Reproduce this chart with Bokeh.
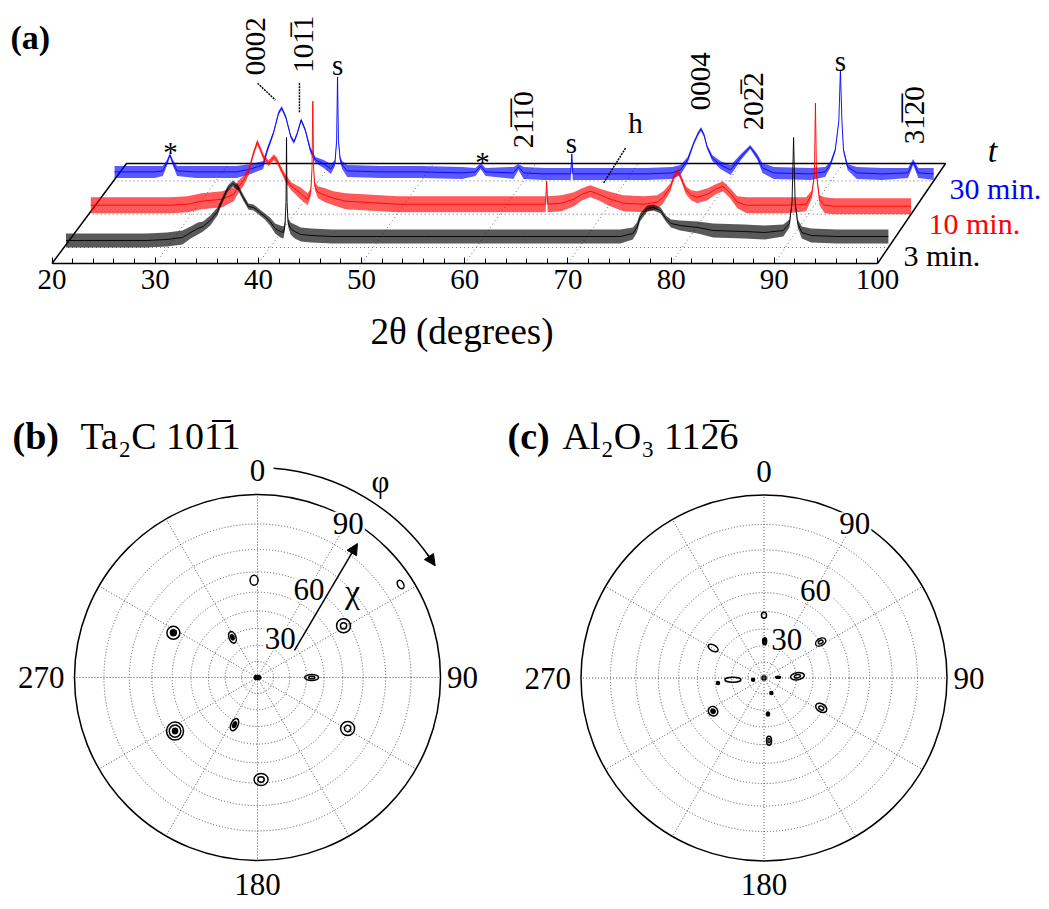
import math
import numpy as np
from bokeh.plotting import figure
from bokeh.layouts import column, row
from bokeh.models import Range1d, FixedTicker, Arrow, NormalHead, LinearAxis
from bokeh.core.properties import value
from bokeh.embed import file_html
from bokeh.resources import INLINE

FONT = "Liberation Serif"

# ---------------- panel (a): XRD scans (2theta in degrees, intensity in arb. units) ----------------
tth_3min = [20.2, 22.0, 24.0, 26.0, 28.0, 30.0, 31.5, 32.3, 33.0, 33.5, 34.2, 34.9, 35.4, 35.9, 36.4,
            36.9, 37.4, 37.9, 38.4, 38.9, 39.5, 40.0, 40.5, 41.0, 41.3, 41.45, 41.55, 41.6, 41.65, 41.75,
            42.0, 42.4, 43.0, 44.0, 46.0, 50.0, 55.0, 60.0, 65.0, 70.0, 74.0, 75.2, 75.6, 75.9, 76.6,
            77.2, 77.9, 78.4, 78.9, 79.8, 81.5, 83.0, 86.0, 88.0, 89.8, 90.4, 90.65, 90.8, 90.95, 91.2,
            91.6, 92.5, 95.0, 98.0, 100.0]
int_3min = [7, 7, 7, 7, 7, 8, 10, 15, 19, 21, 27, 36, 48, 59, 64,
            60, 50, 41, 40, 36, 31, 26, 19, 16, 15, 22, 45, 110, 45, 25,
            19, 16, 13, 12, 11, 11, 11, 11, 11, 11, 11, 14, 20, 30, 39,
            40, 37, 29, 24, 22, 20, 17, 16, 15, 17, 24, 45, 110, 45, 24,
            15, 12, 11, 11, 11]
noise_3min = [7, 7, 7, 7, 7, 7, 7, 6, 6, 5, 5, 4, 3, 3, 3,
              3, 3, 3, 3, 3, 3, 4, 5, 6, 6, 4, 2, 1, 2, 4,
              6, 7, 7, 7, 7, 7, 7, 7, 7, 7, 7, 6, 5, 4, 3,
              3, 3, 3, 4, 5, 6, 7, 7, 7, 6, 4, 2, 1, 2, 4,
              6, 7, 7, 7, 7]

tth_10min = [20.2, 22.0, 24.0, 26.0, 28.0, 29.6, 31.0, 33.0, 34.1, 34.6, 35.1, 35.6, 36.0, 36.4, 36.7,
             37.0, 37.5, 38.0, 38.3, 38.7, 39.2, 39.7, 40.2, 40.6, 41.3, 41.6, 41.72, 41.8, 41.88, 42.0,
             42.3, 43.0, 43.8, 45.0, 46.7, 50.0, 55.0, 60.0, 64.45, 64.55, 64.65, 66.0, 67.2, 68.0, 68.8,
             69.6, 70.5, 72.0, 74.0, 75.3, 75.9, 76.6, 76.9, 77.3, 77.6, 78.1, 78.6, 79.2, 80.2, 81.0,
             81.7, 82.4, 83.1, 84.0, 86.0, 88.0, 89.8, 90.35, 90.6, 90.7, 90.8, 91.1, 91.6, 92.5, 95.0,
             98.0, 100.0]
int_10min = [9, 9, 9, 9, 9, 10, 13, 15, 20, 28, 34, 44, 60, 72, 65,
             57, 51, 57, 54, 45, 35, 28, 24, 21, 15, 22, 45, 113, 45, 28,
             22, 19, 16, 13, 12, 10, 10, 10, 10, 33, 10, 11, 15, 20, 23,
             20, 16, 11, 10, 12, 17, 27, 37, 43, 37, 24, 19, 17, 20, 25,
             28, 21, 12, 9, 9, 9, 10, 20, 40, 111, 40, 14, 9, 8, 8,
             8, 8]
noise_10min = [8, 8, 8, 8, 8, 8, 8, 8, 7, 6, 5, 4, 3, 3, 3,
               3, 3, 3, 3, 3, 4, 4, 5, 6, 6, 4, 2, 1, 2, 4,
               6, 7, 7, 8, 8, 8, 8, 8, 8, 1, 8, 8, 7, 6, 6,
               6, 7, 8, 8, 7, 6, 4, 3, 3, 3, 4, 5, 6, 6, 5,
               5, 5, 6, 8, 8, 8, 7, 4, 2, 1, 2, 5, 8, 8, 8,
               8, 8]

tth_30min = [20.1, 22.0, 24.0, 24.8, 25.2, 25.5, 25.8, 26.2, 28.0, 30.0, 32.0, 33.4, 34.6, 35.0, 35.6,
             36.1, 36.4, 36.8, 37.3, 37.6, 37.9, 38.3, 38.7, 39.2, 39.7, 40.5, 41.2, 41.6, 41.76, 41.85,
             41.94, 42.1, 42.3, 42.8, 46.0, 50.0, 54.0, 55.3, 55.8, 56.3, 59.0, 59.5, 60.0, 62.0, 64.6,
             64.7, 64.8, 68.0, 72.0, 74.5, 75.3, 76.0, 76.6, 77.0, 77.3, 77.6, 77.9, 78.4, 79.2, 80.2,
             81.2, 82.1, 82.8, 83.3, 84.4, 88.0, 89.4, 89.9, 90.4, 90.75, 90.9, 91.05, 91.2, 91.6, 92.5,
             95.0, 97.5, 98.0, 98.5, 100.0]
int_30min = [9, 9, 9, 10, 18, 26, 18, 10, 9, 9, 9, 12, 16, 31, 48,
             68, 73, 64, 44, 39, 47, 61, 51, 31, 21, 17, 12, 18, 40, 104,
             40, 22, 16, 10, 9, 9, 8, 9, 15, 9, 8, 14, 8, 7, 7,
             27, 7, 7, 7, 8, 11, 21, 38, 47, 52, 46, 34, 23, 16, 11,
             24, 34, 24, 13, 8, 7, 9, 16, 31, 60, 111, 60, 31, 14, 8,
             7, 8, 19, 8, 7]
noise_30min = [6, 6, 6, 5, 3, 2, 3, 5, 6, 6, 6, 5, 4, 3, 2,
               2, 2, 2, 2, 2, 2, 2, 2, 3, 3, 4, 5, 3, 2, 1,
               2, 3, 4, 6, 6, 6, 6, 4, 3, 4, 6, 3, 6, 6, 6,
               1, 6, 6, 6, 6, 5, 3, 2, 2, 2, 2, 2, 3, 4, 5,
               3, 2, 3, 5, 6, 6, 5, 3, 2, 1, 1, 1, 2, 3, 6,
               6, 5, 3, 5, 6]

series_names = ["3 min.", "10 min.", "30 min."]
series_colors = ["#000000", "#ff0000", "#0000ff"]
tick_values = [20, 30, 40, 50, 60, 70, 80, 90, 100]
minor_tick_values = list(range(22, 100, 2))
depth_grid_values = [30, 40, 50, 60, 70, 80, 90]

# ---------------- geometry of the oblique (waterfall) box: layout only ----------------
PX_PER_DEG = 10.319
X_LEFT = 20 - 51.5 / PX_PER_DEG
X_RIGHT = X_LEFT + 1049 / PX_PER_DEG
SHIFT_L = 74.5      # px shift of the 20 deg edge from front to back
SHIFT_R = 68.0      # px shift of the 100 deg edge from front to back
DEPTH = 100.0       # floor depth in px
series_depth = [0.16, 0.493, 0.826]


def proj_x(tth, d):
    tth = np.asarray(tth, dtype=float)
    span = 80 * PX_PER_DEG + (SHIFT_R - SHIFT_L) * d
    return 20 + (SHIFT_L * d + (tth - 20) / 80 * span) / PX_PER_DEG


pa = figure(width=1049, height=370, x_range=Range1d(X_LEFT, X_RIGHT), y_range=Range1d(-107, 263),
            x_axis_type=None, y_axis_type=None, output_backend="svg", toolbar_location=None,
            min_border=0)
pa.grid.visible = False
pa.outline_line_color = None
pa.background_fill_color = "white"
pa.border_fill_color = "white"

ax = LinearAxis(fixed_location=0)
ax.ticker = FixedTicker(ticks=tick_values, minor_ticks=minor_tick_values)
ax.bounds = (20, 100)
ax.axis_line_width = 1.5
ax.axis_line_color = "black"
ax.major_tick_in = 6
ax.major_tick_out = 0
ax.minor_tick_in = 5
ax.minor_tick_out = 0
ax.major_tick_line_color = "black"
ax.minor_tick_line_color = "black"
ax.major_label_text_font = FONT
ax.major_label_text_font_size = "29px"
ax.major_label_text_color = "black"
ax.major_label_standoff = 6
pa.add_layout(ax, "below")

# dotted depth grid and series baselines
pa.segment(x0=proj_x(depth_grid_values, 0.0), y0=[0] * len(depth_grid_values),
           x1=proj_x(depth_grid_values, 1.0), y1=[DEPTH] * len(depth_grid_values),
           line_color="#6a6a6a", line_dash="1 3", line_width=1)
pa.segment(x0=[float(proj_x(20, d)) for d in series_depth], y0=[DEPTH * d for d in series_depth],
           x1=[float(proj_x(100, d)) for d in series_depth], y1=[DEPTH * d for d in series_depth],
           line_color="#6a6a6a", line_dash="1 3", line_width=1)
# box edges
pa.line(x=[float(proj_x(20, 0)), float(proj_x(20, 1)), float(proj_x(100, 1)), float(proj_x(100, 0))],
        y=[0, DEPTH, DEPTH, 0], line_color="black", line_width=1.5)

traces = [(tth_3min, int_3min, noise_3min), (tth_10min, int_10min, noise_10min),
          (tth_30min, int_30min, noise_30min)]
for i in [2, 1, 0]:
    tth, inten, noise = traces[i]
    d = series_depth[i]
    xs = proj_x(tth, d)
    ys = DEPTH * d + np.asarray(inten, float)
    nz = np.asarray(noise, float)
    col = series_colors[i]
    pa.varea(x=xs, y1=ys - nz, y2=ys + nz, fill_color=col, fill_alpha=0.65)
    pa.line(x=xs, y=ys, line_color=col, line_width=1, line_alpha=0.9)

# series names
pa.text(x=[102.52, 104.94, 106.98], y=[8.3, 40.3, 75.3], text=series_names,
        text_color=series_colors, text_font=value(FONT), text_font_size="30px",
        text_align="left", text_baseline="alphabetic")
pa.text(x=[111.14], y=[113.3], text=["t"], text_font=value(FONT), text_font_size="34px",
        text_font_style="italic", text_align="center", text_baseline="alphabetic")
pa.text(x=[15.98], y=[226.3], text=["(a)"], text_font=value(FONT), text_font_size="34px",
        text_font_style="bold", text_align="left", text_baseline="alphabetic")
# axis title
pa.text(x=[59.73], y=[-67.7], text=["2\u03b8 (degrees)"], text_font=value(FONT),
        text_font_size="37px", text_align="center", text_baseline="alphabetic")
# upright peak markers
pa.text(x=[31.48, 61.72, 47.67, 70.34, 96.41, 76.55], y=[111.3, 101.3, 198.3, 120.3, 202.3, 140.3],
        text=["*", "*", "s", "s", "s", "h"], text_font=value(FONT), text_font_size="29px",
        text_align="center", text_baseline="alphabetic")
# rotated reflection indices
OB = "\u0305"
pa.text(x=[39.72, 44.37, 65.60, 82.85, 87.89, 103.58], y=[217.3, 219.3, 143.8, 182.3, 162.3, 148.3],
        text=["0002", "101" + OB + "1", "21" + OB + "1" + OB + "0", "0004", "202" + OB + "2",
              "31" + OB + "2" + OB + "0"],
        angle=math.pi / 2, text_font=value(FONT), text_font_size="29px",
        text_align="center", text_baseline="middle")
# dotted leader lines
pa.segment(x0=[39.92, 43.98, 75.58], y0=[180.3, 180.3, 115.3], x1=[41.66, 43.98, 73.44],
           y1=[163.3, 151.3, 80.3], line_color="black", line_dash="2 1", line_width=1.5)

# ---------------- pole figures (b), (c) ----------------
ring_chi = [10, 20, 30, 40, 50, 60, 70, 80]
radial_phi = [0, 30, 60, 90, 120, 150, 180, 210, 240, 270, 300, 330]
phi_label_values = [0, 90, 180, 270]
chi_label_values = [30, 60, 90]

# Ta2C 10-11 pole figure spots: phi (deg), chi (deg), contour extent (px), tilt (deg), contours, filled core
phi_b = [358, 298, 59, 237, 119.5, 178, 328, 90, 206, 0, 57]
chi_b = [56, 55, 57.5, 56.5, 59, 58.3, 29, 33, 32, 0, 86]
w_b = [8, 13, 14, 17, 14, 14, 7, 14, 7, 7, 6]
h_b = [10, 13, 14, 18, 14, 12, 12, 6, 13, 4, 9]
ang_b = [0, 0, 0, 0, 0, 0, 20, 0, -25, 0, 30]
rings_b = [1, 2, 2, 3, 2, 2, 2, 2, 2, 1, 1]
fill_b = [0, 1, 0, 1, 0, 0, 1, 0, 1, 1, 0]

# Al2O3 11-26 pole figure spots
phi_c = [0, 1, 57.6, 300.5, 236.9, 117.6, 175.4, 173.7, 266.9, 87, 87, 261, 154, 263.8, 0]
chi_c = [37.8, 22.7, 40.3, 35.8, 36.8, 38.9, 37.9, 22.4, 19.3, 20.7, 8.8, 6.9, 10.4, 28.4, 0]
w_c = [5, 4, 11, 11, 9, 12, 5, 3, 16, 14, 5, 3, 3, 3, 4]
h_c = [6, 7, 7, 6, 10, 8, 9, 4, 5, 7, 2, 3, 3, 3, 4]
ang_c = [0, 0, 30, -30, 50, -30, 0, 0, 0, 10, 0, 0, 0, 0, 0]
rings_c = [1, 1, 2, 1, 2, 2, 2, 1, 1, 2, 1, 1, 1, 1, 1]
fill_c = [0, 1, 0, 0, 1, 0, 0, 1, 0, 0, 1, 1, 1, 1, 0]

R_PX = 183.0   # px per unit radius (chi = 90)
PANEL_H = 539


def stereo(chi):
    return np.tan(np.radians(np.asarray(chi, float) / 2.0))


def polar_panel(width, cx, cy, phi, chi, w, h, ang, rings, filled, title_bold, title_rest,
                tb_x, tr_x, arrows):
    p = figure(width=width, height=PANEL_H,
               x_range=Range1d(-cx / R_PX, (width - cx) / R_PX),
               y_range=Range1d(-(PANEL_H - cy) / R_PX, cy / R_PX),
               x_axis_type=None, y_axis_type=None, output_backend="svg",
               toolbar_location=None, min_border=0)
    p.grid.visible = False
    p.outline_line_color = None
    p.background_fill_color = "white"
    p.border_fill_color = "white"

    rr = stereo(ring_chi)
    p.ellipse(x=[0] * len(rr), y=[0] * len(rr), width=2 * rr, height=2 * rr, fill_color=None,
              line_color="#555555", line_dash="1 2", line_width=1)
    ph = np.radians(radial_phi)
    p.segment(x0=[0] * len(ph), y0=[0] * len(ph), x1=np.sin(ph), y1=np.cos(ph),
              line_color="#555555", line_dash="1 2", line_width=1)
    p.ellipse(x=[0], y=[0], width=[2.0], height=[2.0], fill_color=None, line_color="black",
              line_width=1.5)

    # spots as contour rings
    r = stereo(chi)
    sx = r * np.sin(np.radians(phi))
    sy = r * np.cos(np.radians(phi))
    scales = {1: [1.0], 2: [1.0, 0.45], 3: [1.0, 0.68, 0.3]}
    for k in range(len(phi)):
        sc = scales[rings[k]]
        for j, s in enumerate(sc):
            inner = (j == len(sc) - 1)
            p.ellipse(x=[sx[k]], y=[sy[k]], width=[w[k] * s / R_PX], height=[h[k] * s / R_PX],
                      angle=[math.radians(ang[k])],
                      fill_color="black" if (inner and filled[k]) else None,
                      line_color="black", line_width=1.5)

    # phi labels
    pa_ = np.radians(phi_label_values)
    lab_r = [1.13, 1.035, 1.13, 1.055]
    aligns = ["center", "left", "center", "right"]
    for k in range(4):
        p.text(x=[lab_r[k] * math.sin(pa_[k])], y=[lab_r[k] * math.cos(pa_[k])],
               text=[str(phi_label_values[k])], text_font=value(FONT), text_font_size="31px",
               text_align=aligns[k], text_baseline="middle")
    # chi labels along phi = 30.5
    cr = stereo(chi_label_values) - 0.022
    p.text(x=cr * math.sin(math.radians(30.5)), y=cr * math.cos(math.radians(30.5)),
           text=[str(v) for v in chi_label_values], text_font=value(FONT), text_font_size="31px",
           text_align="center", text_baseline="middle", background_fill_color="white",
           padding=1)

    # title
    ty = (cy - 65) / R_PX
    p.text(x=[tb_x], y=[ty], text=[title_bold], text_font=value(FONT), text_font_size="38px",
           text_font_style="bold", text_align="left", text_baseline="alphabetic")
    p.text(x=[tr_x], y=[ty], text=[title_rest], text_font=value(FONT), text_font_size="38px",
           text_align="left", text_baseline="alphabetic")

    if arrows:
        ra = 1.147
        p.arc(x=[0], y=[0], radius=ra, start_angle=math.radians(90 - 57.8),
              end_angle=math.radians(90 - 4.4), line_color="black", line_width=1.5)
        a0, a1 = math.radians(54.0), math.radians(57.8)
        p.add_layout(Arrow(end=NormalHead(size=11, fill_color="black", line_color="black"),
                           x_start=ra * math.sin(a0), y_start=ra * math.cos(a0),
                           x_end=ra * math.sin(a1), y_end=ra * math.cos(a1),
                           line_color="black", line_width=1.5))
        p.add_layout(Arrow(end=NormalHead(size=11, fill_color="black", line_color="black"),
                           x_start=0.202, y_start=0.148, x_end=0.546, y_end=0.732,
                           line_color="black", line_width=1.5))
        p.text(x=[0.672], y=[1.071], text=["\u03c6"], text_font=value(FONT),
               text_font_size="31px", text_align="center", text_baseline="middle")
        p.text(x=[0.519], y=[0.47], text=["\u03c7"], text_font=value(FONT),
               text_font_size="34px", text_align="center", text_baseline="middle")
    return p


pb = polar_panel(500, 257.0, 307.0, phi_b, chi_b, w_b, h_b, ang_b, rings_b, fill_b,
                 "(b)", "Ta\u2082C 101" + OB + "1", (12 - 257.0) / R_PX, (80 - 257.0) / R_PX, True)
pc = polar_panel(549, 263.5, 307.5, phi_c, chi_c, w_c, h_c, ang_c, rings_c, fill_c,
                 "(c)", "Al\u2082O\u2083 112" + OB + "6", (7 - 263.5) / R_PX, (62 - 263.5) / R_PX, False)

layout = column(pa, row(pb, pc))
open("out.html", "w").write(file_html(layout, INLINE))
